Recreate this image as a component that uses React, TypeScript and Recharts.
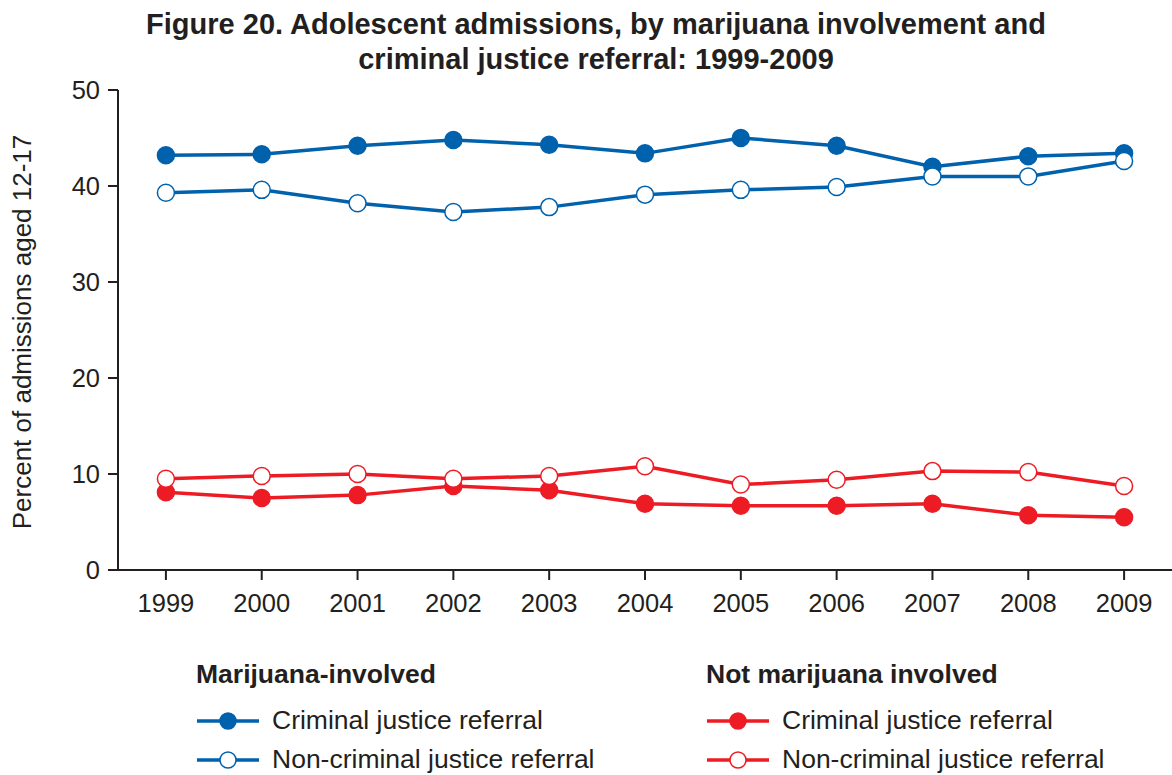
import React from 'react';
import { LineChart, Line, XAxis, YAxis } from 'recharts';

const years = [1999, 2000, 2001, 2002, 2003, 2004, 2005, 2006, 2007, 2008, 2009];
const mjCriminal = [43.2, 43.3, 44.2, 44.8, 44.3, 43.4, 45.0, 44.2, 42.0, 43.1, 43.4];
const mjNonCriminal = [39.3, 39.6, 38.2, 37.3, 37.8, 39.1, 39.6, 39.9, 41.0, 41.0, 42.6];
const notMjCriminal = [8.1, 7.5, 7.8, 8.75, 8.3, 6.9, 6.7, 6.7, 6.9, 5.7, 5.5];
const notMjNonCriminal = [9.5, 9.8, 10.0, 9.5, 9.8, 10.8, 8.9, 9.4, 10.3, 10.2, 8.75];
const yTicks = [0, 10, 20, 30, 40, 50];

const BLUE = '#0061AC';
const RED = '#ED1C24';
const INK = '#231F20';
const FONT = '"Liberation Sans", Arial, Helvetica, sans-serif';

const data = years.map((year, i) => ({
  year,
  mjCrim: mjCriminal[i],
  mjNon: mjNonCriminal[i],
  nmCrim: notMjCriminal[i],
  nmNon: notMjNonCriminal[i],
}));

function LegendItem({ color, filled, label }: { color: string; filled: boolean; label: string }) {
  return (
    <div style={{ display: 'flex', alignItems: 'center', height: 39 }}>
      <svg width={64} height={20} style={{ marginRight: 12 }}>
        <line x1={1} y1={10} x2={63} y2={10} stroke={color} strokeWidth={3.5} />
        <circle cx={32} cy={10} r={8} fill={filled ? color : '#fff'} stroke={color} strokeWidth={1.5} />
      </svg>
      <span style={{ fontSize: 26.5, color: INK }}>{label}</span>
    </div>
  );
}

export default function App() {
  return (
    <div style={{ position: 'absolute', left: 0, top: 0, width: 1172, height: 775, background: '#fff', fontFamily: FONT, overflow: 'hidden' }}>
      <div style={{ position: 'absolute', left: 0, top: 7, width: 1192, textAlign: 'center', fontWeight: 'bold', fontSize: 29, lineHeight: '35px', color: INK }}>
        Figure 20. Adolescent admissions, by marijuana involvement and
        <br />
        criminal justice referral: 1999-2009
      </div>

      <div style={{ position: 'absolute', left: 22, top: 332, transform: 'translate(-50%, -50%) rotate(-90deg)', whiteSpace: 'nowrap', fontSize: 26, color: INK }}>
        Percent of admissions aged 12-17
      </div>

      <div style={{ position: 'absolute', left: 0, top: 0 }}>
        <LineChart width={1172} height={775} data={data} margin={{ top: 90, right: 0, bottom: 155, left: 0 }}>
          <XAxis
            dataKey="year"
            type="number"
            domain={[1998.5, 2009.5]}
            ticks={years}
            allowDataOverflow
            height={50}
            tickSize={10}
            tickMargin={14}
            stroke={INK}
            strokeWidth={2}
            tick={{ fill: INK, fontSize: 25.5, fontFamily: FONT }}
          />
          <YAxis
            domain={[0, 50]}
            ticks={yTicks}
            width={118}
            tickSize={10}
            tickMargin={8}
            stroke={INK}
            strokeWidth={2}
            tick={{ fill: INK, fontSize: 25.5, fontFamily: FONT }}
          />
          <Line dataKey="mjCrim" stroke={BLUE} strokeWidth={3.5} isAnimationActive={false}
            dot={{ r: 8.5, fill: BLUE, stroke: BLUE, strokeWidth: 1.5 }} />
          <Line dataKey="mjNon" stroke={BLUE} strokeWidth={3.5} isAnimationActive={false}
            dot={{ r: 8.5, fill: '#fff', stroke: BLUE, strokeWidth: 1.5 }} />
          <Line dataKey="nmCrim" stroke={RED} strokeWidth={3.5} isAnimationActive={false}
            dot={{ r: 8.5, fill: RED, stroke: RED, strokeWidth: 1.5 }} />
          <Line dataKey="nmNon" stroke={RED} strokeWidth={3.5} isAnimationActive={false}
            dot={{ r: 8.5, fill: '#fff', stroke: RED, strokeWidth: 1.5 }} />
        </LineChart>
      </div>

      <div style={{ position: 'absolute', left: 196, top: 657 }}>
        <div style={{ fontSize: 26.5, fontWeight: 'bold', color: INK, height: 44, lineHeight: '34px' }}>Marijuana-involved</div>
        <LegendItem color={BLUE} filled label="Criminal justice referral" />
        <LegendItem color={BLUE} filled={false} label="Non-criminal justice referral" />
      </div>
      <div style={{ position: 'absolute', left: 706, top: 657 }}>
        <div style={{ fontSize: 26.5, fontWeight: 'bold', color: INK, height: 44, lineHeight: '34px' }}>Not marijuana involved</div>
        <LegendItem color={RED} filled label="Criminal justice referral" />
        <LegendItem color={RED} filled={false} label="Non-criminal justice referral" />
      </div>
    </div>
  );
}
